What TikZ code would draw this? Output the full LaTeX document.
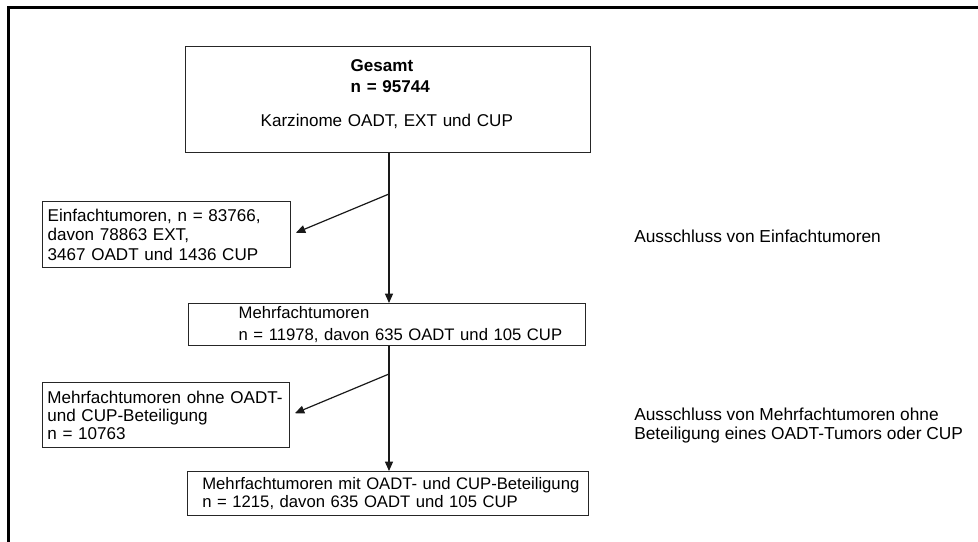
\documentclass[tikz,border=0pt]{standalone}
\usepackage{fontspec}
\setmainfont{Liberation Sans}
\usetikzlibrary{arrows.meta}
\begin{document}
\begin{tikzpicture}[x=0.75pt,y=-0.75pt,
  every node/.style={font=\fontsize{13pt}{14pt}\selectfont},
  box/.style={draw=black!85,line width=1pt,rectangle,anchor=north west,align=left,inner ysep=0pt,
    font=\fontsize{12.8pt}{14pt}\selectfont},
  widebox/.style={box,font=\fontsize{12.5pt}{14pt}\selectfont},
  arr/.style={draw=black!90,line width=0.9pt,-{Triangle[length=7pt,width=6pt]}},
  frameline/.style={draw=black,line width=2pt}
]
\useasboundingbox (0,0) rectangle (978,542);
% frame (top and left edges visible)
\coordinate (fa) at (8.5,545);
\coordinate (fb) at (8.5,7.5);
\coordinate (fc) at (980,7.5);
\draw[frameline] (fa) -- (fb) -- (fc);

% boxes
\node[box,minimum width=303.75pt,minimum height=79.5pt,inner xsep=3pt,text width=297.75pt] (g) at (185,46)
  {{\bfseries\mbox{\hspace*{120.75pt}Gesamt}\\[1.75pt]\mbox{\hspace*{120.75pt}n = 95744}}\\[11.5pt]\mbox{\hspace*{53.25pt}Karzinome OADT, EXT und CUP}\rule[-9.5pt]{0pt}{9.5pt}};

\node[box,minimum width=186pt,minimum height=49.5pt,inner xsep=3.75pt,text width=178.5pt] (e) at (42,201)
  {\mbox{Einfachtumoren, n = 83766,}\\[0.8pt]\mbox{davon 78863 EXT,}\\[0.8pt]\mbox{3467 OADT und 1436 CUP}};

\node[widebox,minimum width=297.75pt,minimum height=31.5pt,inner xsep=3pt,text width=291.75pt] (m) at (188,303)
  {\mbox{\hspace*{34.5pt}Mehrfachtumoren}\\[2.6pt]\mbox{\hspace*{34.5pt}n = 11978, davon 635 OADT und 105 CUP}};

\node[box,minimum width=185.25pt,minimum height=48.75pt,inner xsep=3.5pt,text width=178.25pt] (o) at (42,382)
  {\mbox{Mehrfachtumoren ohne OADT-}\\[-0.5pt]\mbox{und CUP-Beteiligung}\\[-0.5pt]\mbox{n = 10763}};

\node[widebox,minimum width=300.75pt,minimum height=33pt,inner xsep=3pt,text width=294.75pt] (w) at (187,471)
  {\mbox{\hspace*{8pt}Mehrfachtumoren mit OADT- und CUP-Beteiligung}\\[-0.3pt]\mbox{\hspace*{8pt}n = 1215, davon 635 OADT und 105 CUP}};

% side labels
\node[anchor=base west,inner sep=0pt] (l1) at (634,242) {Ausschluss von Einfachtumoren};
\node[anchor=west,inner sep=0pt,align=left] (l2) at (634,426)
  {Ausschluss von Mehrfachtumoren ohne\\[0.25pt]Beteiligung eines OADT-Tumors oder CUP};

% connectors
\coordinate (s1) at (389,194);
\coordinate (s2) at (389,374);
\draw[arr] (g.south -| s1) -- (m.north -| s1);
\draw[arr] (m.south -| s1) -- (w.north -| s1);
\draw[arr,shorten >=3.75pt] (s1) -- (e.east);
\draw[arr,shorten >=3.75pt] (s2) -- (o.east);
\end{tikzpicture}
\end{document}
